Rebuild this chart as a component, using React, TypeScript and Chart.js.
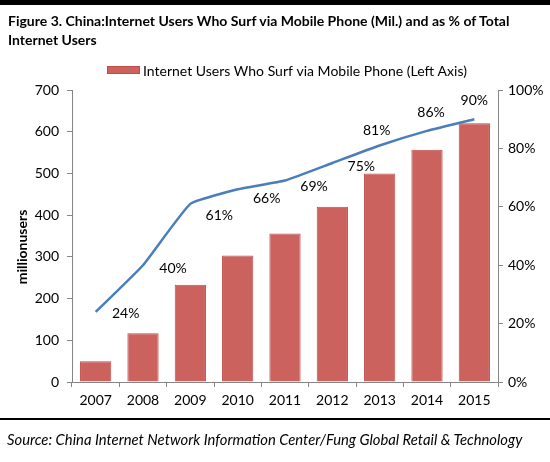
import React, { useEffect, useRef } from "react";
import { Chart, registerables } from "chart.js";

Chart.register(...registerables);

// ---- data ----
const YEARS = ["2007", "2008", "2009", "2010", "2011", "2012", "2013", "2014", "2015"];
const MOBILE_USERS_MIL = [50, 117, 233, 303, 356, 420, 500, 557, 620];
const MOBILE_SHARE_PCT = [24, 40, 61, 66, 69, 75, 81, 86, 90];
const BAR_LABEL = "Internet Users Who Surf via Mobile Phone (Left Axis)";
const LINE_LABEL = "Internet Users Who Surf via Mobile Phone as % of Total Internet Users";
const LEFT_AXIS_TITLE = "millionusers";
const TITLE_LINES = [
  "Figure 3. China:Internet Users Who Surf via Mobile Phone (Mil.) and as % of Total",
  "Internet Users",
];
const SOURCE_TEXT = "Source: China Internet Network Information Center/Fung Global Retail & Technology";

// ---- styles ----
const FONT = "Lato, 'Open Sans', sans-serif";
const BAR_FILL = "#CC625E";
const BAR_BORDER = "#BE4D4A";
const LINE_COLOR = "#4A7EBB";
const AXIS_COLOR = "#868686";
// label placement relative to each point (dx, dy), pixels
const LABEL_OFFSETS: [number, number][] = [
  [30, 2], [30, 3], [29, 12], [29, 9], [29, 6], [29, 3], [-3, -15], [4, -18], [0, -19],
];

const overlayPlugin = {
  id: "overlay",
  afterDatasetsDraw(chart: any) {
    const ctx = chart.ctx;
    const meta = chart.getDatasetMeta(1);
    ctx.save();
    ctx.fillStyle = "#000";
    ctx.font = `14px ${FONT}`;
    ctx.textAlign = "center";
    ctx.textBaseline = "middle";
    meta.data.forEach((pt: any, i: number) => {
      const [dx, dy] = LABEL_OFFSETS[i];
      ctx.fillText(`${chart.data.datasets[1].data[i]}%`, pt.x + dx, pt.y + dy);
    });
    // legend (bar series only)
    const ds = chart.data.datasets[0];
    ctx.fillStyle = ds.backgroundColor;
    ctx.fillRect(107, 66, 33, 8);
    ctx.strokeStyle = ds.borderColor;
    ctx.lineWidth = 1;
    ctx.strokeRect(107.5, 66.5, 32, 7);
    ctx.fillStyle = "#000";
    ctx.textAlign = "left";
    ctx.font = `14px ${FONT}`;
    ctx.fillText(ds.label, 143, 71);
    // left axis title
    ctx.save();
    ctx.translate(22, 247);
    ctx.rotate(-Math.PI / 2);
    ctx.textAlign = "center";
    ctx.font = `bold 14px ${FONT}`;
    ctx.fillText(LEFT_AXIS_TITLE, 0, 0);
    ctx.restore();
    ctx.restore();
  },
};

export default function App() {
  const ref = useRef<HTMLCanvasElement | null>(null);

  useEffect(() => {
    if (!ref.current) return;
    const tickFont = { family: FONT, size: 14 };
    const chart = new Chart(ref.current, {
      type: "bar",
      data: {
        labels: YEARS,
        datasets: [
          {
            type: "bar",
            label: BAR_LABEL,
            data: MOBILE_USERS_MIL,
            backgroundColor: BAR_FILL,
            borderColor: BAR_BORDER,
            borderWidth: 1,
            yAxisID: "y",
            categoryPercentage: 1,
            barPercentage: 0.66,
            order: 2,
          },
          {
            type: "line",
            label: LINE_LABEL,
            data: MOBILE_SHARE_PCT,
            borderColor: LINE_COLOR,
            borderWidth: 2.5,
            pointRadius: 0,
            tension: 0.12,
            fill: false,
            yAxisID: "y1",
            order: 1,
          },
        ],
      },
      options: {
        responsive: false,
        animation: false,
        layout: { padding: { top: 90, bottom: 50, left: 0, right: 0 } },
        plugins: {
          legend: { display: false },
          title: { display: false },
          tooltip: { enabled: false },
        },
        scales: {
          x: {
            offset: true,
            grid: {
              offset: true,
              drawOnChartArea: false,
              drawTicks: true,
              tickLength: 5,
              color: AXIS_COLOR,
            },
            border: { color: AXIS_COLOR, width: 1 },
            ticks: { font: tickFont, color: "#000", padding: 5, maxRotation: 0 },
            afterFit: (s: any) => {
              s.height = 30;
            },
          },
          y: {
            position: "left",
            min: 0,
            max: 700,
            ticks: { stepSize: 100, font: tickFont, color: "#000", padding: 8 },
            grid: { drawOnChartArea: false, tickLength: 5, color: AXIS_COLOR },
            border: { color: AXIS_COLOR, width: 1 },
            afterFit: (s: any) => {
              s.width = 72;
            },
          },
          y1: {
            position: "right",
            min: 0,
            max: 100,
            ticks: {
              stepSize: 20,
              font: tickFont,
              color: "#000",
              padding: 5,
              callback: (v: any) => `${v}%`,
            },
            grid: { drawOnChartArea: false, tickLength: 5, color: AXIS_COLOR },
            border: { color: AXIS_COLOR, width: 1 },
            afterFit: (s: any) => {
              s.width = 52;
            },
          },
        },
      },
      plugins: [overlayPlugin],
    } as any);
    return () => chart.destroy();
  }, []);

  return (
    <div style={{ position: "absolute", left: 0, top: 0, width: 550, height: 462, background: "#fff", overflow: "hidden" }}>
      <canvas ref={ref} width={550} height={462} style={{ position: "absolute", left: 0, top: 0 }} />
      <div style={{ position: "absolute", left: 0, top: 0, width: 550, height: 5, background: "#000" }} />
      <div
        style={{
          position: "absolute",
          left: 8,
          top: 11,
          fontFamily: FONT,
          fontWeight: 700,
          fontSize: 14,
          lineHeight: "19px",
          whiteSpace: "nowrap",
          color: "#000",
        }}
      >
        {TITLE_LINES[0]}
        <br />
        {TITLE_LINES[1]}
      </div>
      <div style={{ position: "absolute", left: 0, top: 418, width: 550, height: 2, background: "#000" }} />
      <div
        style={{
          position: "absolute",
          left: 7,
          top: 430,
          fontFamily: FONT,
          fontStyle: "italic",
          fontSize: 14.8,
          lineHeight: "19px",
          whiteSpace: "nowrap",
          color: "#000",
        }}
      >
        {SOURCE_TEXT}
      </div>
    </div>
  );
}
